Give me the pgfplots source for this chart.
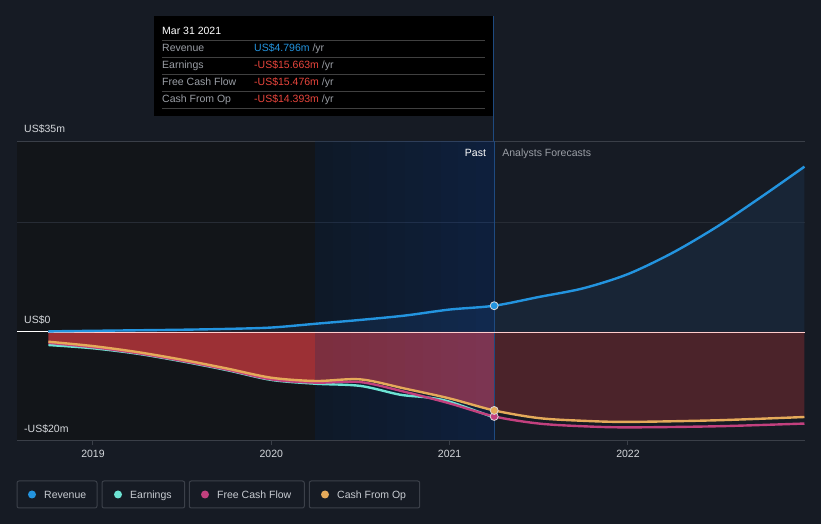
\documentclass[border=0pt]{standalone}
\usepackage{pgfplots}
\pgfplotsset{compat=1.18}
\usepackage{fontspec}
\setmainfont{Liberation Sans}
\definecolor{pagebg}{HTML}{161B24}
\definecolor{pastbg}{HTML}{121519}
\definecolor{gridA}{HTML}{3A3F48}
\definecolor{gridB}{HTML}{272C35}
\definecolor{revc}{HTML}{2394DF}
\definecolor{earnc}{HTML}{6DE3D3}
\definecolor{fcfc}{HTML}{C2407E}
\definecolor{cfoc}{HTML}{E5AA5A}
\definecolor{redpast}{HTML}{9C3035}
\definecolor{redfc}{HTML}{4B232A}
\definecolor{revfill}{HTML}{1E3A5A}
\definecolor{hlL}{HTML}{002A62}
\definecolor{hlR}{HTML}{004DD0}
\definecolor{vline}{HTML}{1E4A80}
\definecolor{txt}{HTML}{D5D8DC}
\definecolor{lbl}{HTML}{9A9EA5}
\definecolor{neg}{HTML}{E8453C}
\definecolor{legtxt}{HTML}{C8CCD2}
\definecolor{legbox}{HTML}{3B4049}
\newcommand\f{\fontsize{10.5}{12}\selectfont}
\tikzset{t/.style={inner sep=0pt, text height=7.5pt, text depth=0pt, font=\f},
  hl/.style={fill=hlR!#1!hlL, fill opacity=0.2, draw=none}}
\begin{document}
\begin{tikzpicture}
\begin{scope}[x=1pt,y=1pt]
\useasboundingbox (0,0) rectangle (821,524);
\fill[pagebg] (0,0) rectangle (821,524);
\end{scope}
% x values are years since 2018
\begin{axis}[at={(17pt,83pt)}, anchor=south west, width=788pt, height=300pt,
  scale only axis, xmin=0.574, xmax=4.993, ymin=-20, ymax=35,
  hide axis, clip=false]
% past background
\fill[pastbg] (axis cs:0.574,-20) rectangle (axis cs:3.25,35);
% grid
\draw[gridA, line width=1pt] (axis cs:0.574,35) -- (axis cs:4.993,35);
\draw[gridB, line width=1pt] (axis cs:0.574,20) -- (axis cs:4.993,20);
% revenue area
\addplot[draw=none, fill=revfill, fill opacity=0.35, smooth] coordinates {
(0.75,0.1) (1.0,0.2) (1.25,0.3) (1.5,0.4) (1.75,0.55) (2.0,0.8)
(2.25,1.5) (2.5,2.2) (2.75,3.0) (3.0,4.1) (3.25,4.8)
(3.5,6.4) (3.75,8.0) (4.0,10.6) (4.25,14.5) (4.5,19.3) (4.75,24.8) (4.99,30.3)} \closedcycle;
% red fills
\addplot[draw=none, fill=redpast, smooth] coordinates {
(0.75,-1.8) (1.0,-2.6) (1.25,-3.7) (1.5,-5.1) (1.75,-6.7) (2.0,-8.4)
(2.25,-9.0) (2.5,-8.7) (2.75,-10.4) (3.0,-12.2) (3.25,-14.4)} \closedcycle;
\addplot[draw=none, fill=redfc, smooth] coordinates {
(3.25,-14.4) (3.5,-15.8) (3.75,-16.3) (4.0,-16.5) (4.5,-16.2) (4.99,-15.6)} \closedcycle;
% highlight overlay (gradient in strips)
\fill[hl=5] (axis cs:2.247,-20) rectangle (axis cs:2.347,35);
\fill[hl=15] (axis cs:2.347,-20) rectangle (axis cs:2.448,35);
\fill[hl=25] (axis cs:2.448,-20) rectangle (axis cs:2.548,35);
\fill[hl=35] (axis cs:2.548,-20) rectangle (axis cs:2.648,35);
\fill[hl=45] (axis cs:2.648,-20) rectangle (axis cs:2.749,35);
\fill[hl=55] (axis cs:2.749,-20) rectangle (axis cs:2.849,35);
\fill[hl=65] (axis cs:2.849,-20) rectangle (axis cs:2.949,35);
\fill[hl=75] (axis cs:2.949,-20) rectangle (axis cs:3.049,35);
\fill[hl=85] (axis cs:3.049,-20) rectangle (axis cs:3.150,35);
\fill[hl=95] (axis cs:3.150,-20) rectangle (axis cs:3.25,35);
% vertical line
\draw[vline, line width=0.8pt] (axis cs:3.25,-20) -- (axis cs:3.25,35);
% zero line and bottom line
\draw[white, line width=1pt] (axis cs:0.574,0) -- (axis cs:0.75,0);
\draw[white!80!red, line width=0.8pt] (axis cs:0.75,0) -- (axis cs:4.993,0);
\draw[gridA, line width=1pt] (axis cs:0.574,-20) -- (axis cs:4.993,-20);
\draw[gridA, line width=1pt] (axis cs:1,-20) -- ++(0pt,-4pt);
\draw[gridA, line width=1pt] (axis cs:2,-20) -- ++(0pt,-4pt);
\draw[gridA, line width=1pt] (axis cs:3,-20) -- ++(0pt,-4pt);
\draw[gridA, line width=1pt] (axis cs:4,-20) -- ++(0pt,-4pt);
\node[t, text=txt, anchor=north] at ([yshift=-8.5pt]axis cs:1,-20) {2019};
\node[t, text=txt, anchor=north] at ([yshift=-8.5pt]axis cs:2,-20) {2020};
\node[t, text=txt, anchor=north] at ([yshift=-8.5pt]axis cs:3,-20) {2021};
\node[t, text=txt, anchor=north] at ([yshift=-8.5pt]axis cs:4,-20) {2022};
% lines
\addplot[revc, line width=2.4pt, smooth] coordinates {
(0.75,0.1) (1.0,0.2) (1.25,0.3) (1.5,0.4) (1.75,0.55) (2.0,0.8)
(2.25,1.5) (2.5,2.2) (2.75,3.0) (3.0,4.1) (3.25,4.8)
(3.5,6.4) (3.75,8.0) (4.0,10.6) (4.25,14.5) (4.5,19.3) (4.75,24.8) (4.99,30.3)};
\addplot[earnc, line width=2.4pt, smooth] coordinates {
(0.75,-2.4) (1.0,-3.0) (1.25,-4.0) (1.5,-5.4) (1.75,-7.0) (2.0,-8.8)
(2.25,-9.5) (2.5,-9.9) (2.72,-11.5) (2.87,-12.0) (3.0,-12.8) (3.25,-15.7)};
\addplot[fcfc, line width=2.4pt, smooth] coordinates {
(0.75,-2.0) (1.0,-2.8) (1.25,-3.9) (1.5,-5.3) (1.75,-6.9) (2.0,-8.7)
(2.25,-9.3) (2.5,-9.2) (2.75,-11.0) (3.0,-13.1) (3.25,-15.5)
(3.5,-16.8) (3.75,-17.3) (4.0,-17.5) (4.5,-17.3) (4.99,-16.8)};
\addplot[cfoc, line width=2.4pt, smooth] coordinates {
(0.75,-1.8) (1.0,-2.6) (1.25,-3.7) (1.5,-5.1) (1.75,-6.7) (2.0,-8.4)
(2.25,-9.0) (2.5,-8.7) (2.75,-10.4) (3.0,-12.2) (3.25,-14.4)
(3.5,-15.8) (3.75,-16.3) (4.0,-16.5) (4.5,-16.2) (4.99,-15.6)};
% markers
\addplot[only marks, mark=*, mark size=4pt, mark options={fill=fcfc, draw=white!85!black, line width=0.8pt}] coordinates {(3.25,-15.5)};
\addplot[only marks, mark=*, mark size=4pt, mark options={fill=cfoc, draw=white!85!black, line width=0.8pt}] coordinates {(3.25,-14.4)};
\addplot[only marks, mark=*, mark size=4pt, mark options={fill=revc, draw=white!85!black, line width=0.8pt}] coordinates {(3.25,4.8)};
% Past / forecasts
\node[t, text=white, anchor=east] at ([xshift=-8pt,yshift=-12pt]axis cs:3.25,35) {Past};
\node[t, text=lbl, anchor=west] at ([xshift=8pt,yshift=-12pt]axis cs:3.25,35) {Analysts Forecasts};
\end{axis}
\begin{scope}[x=1pt,y=1pt]
% y labels
\node[t, text=txt, anchor=west] at (24,395) {US\$35m};
\node[t, text=txt, anchor=west] at (24,204) {US\$0};
\node[t, text=txt, anchor=west] at (24,95) {-US\$20m};
% tooltip
\draw[vline, line width=0.8pt] (493,383) -- (493,508);
\fill[black] (154,408) rectangle (493,508);
\node[t, text=white, anchor=west] at (162,493) {Mar 31 2021};
\foreach \yy in {483.3,466.3,449.7,432.7,415.7} {\draw[black!75!white, line width=0.8pt] (162,\yy) -- (485,\yy);}
\node[t, text=lbl, anchor=west] at (162,476) {Revenue};
\node[t, text=lbl, anchor=west] at (162,459) {Earnings};
\node[t, text=lbl, anchor=west] at (162,442) {Free Cash Flow};
\node[t, text=lbl, anchor=west] at (162,425) {Cash From Op};
\node[t, anchor=west] at (254,476) {\textcolor{revc}{US\$4.796m}\textcolor{lbl}{\ /yr}};
\node[t, anchor=west] at (254,459) {\textcolor{neg}{-US\$15.663m}\textcolor{lbl}{\ /yr}};
\node[t, anchor=west] at (254,442) {\textcolor{neg}{-US\$15.476m}\textcolor{lbl}{\ /yr}};
\node[t, anchor=west] at (254,425) {\textcolor{neg}{-US\$14.393m}\textcolor{lbl}{\ /yr}};
% legend
\draw[legbox, line width=1pt, rounded corners=2pt] (17,16) rectangle (97,43);
\draw[legbox, line width=1pt, rounded corners=2pt] (102,16) rectangle (184.7,43);
\draw[legbox, line width=1pt, rounded corners=2pt] (189.3,16) rectangle (304.3,43);
\draw[legbox, line width=1pt, rounded corners=2pt] (309.3,16) rectangle (419.7,43);
\fill[revc] (32,29.5) circle (4);
\fill[earnc] (118,29.5) circle (4);
\fill[fcfc] (205,29.5) circle (4);
\fill[cfoc] (325,29.5) circle (4);
\node[t, text=legtxt, anchor=west] at (44,29.5) {Revenue};
\node[t, text=legtxt, anchor=west] at (130,29.5) {Earnings};
\node[t, text=legtxt, anchor=west] at (217,29.5) {Free Cash Flow};
\node[t, text=legtxt, anchor=west] at (337,29.5) {Cash From Op};
\end{scope}
\end{tikzpicture}
\end{document}
